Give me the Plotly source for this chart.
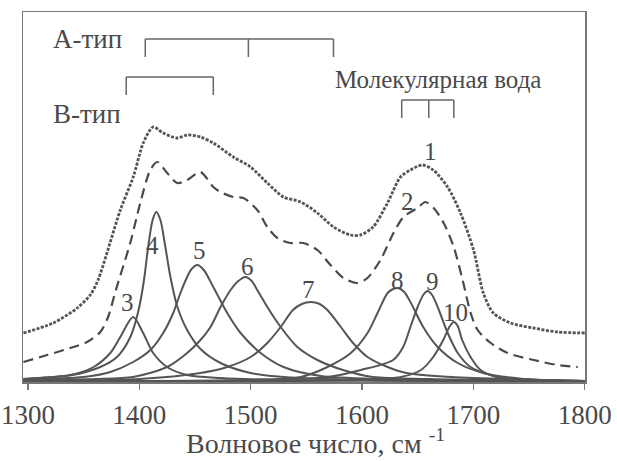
import plotly.graph_objects as go

# ---------------- data ----------------
# curve 1: experimental spectrum (dotted)
c1_x = [1296, 1322.7, 1344.3, 1356, 1363, 1383, 1394.6, 1403.6, 1412.5, 1421.5, 1434, 1443, 1455, 1466.5,
        1484.5, 1500, 1515, 1529.5, 1545, 1560, 1574.5, 1589.6, 1598.6, 1610, 1622.9, 1634.6, 1643.5,
        1654.3, 1664, 1676.9, 1688.5, 1700.2, 1709, 1718, 1733.5, 1754, 1775.8, 1800]
c1_y = [49, 59, 74, 87, 102, 172, 205, 239, 255, 249, 244, 247, 245, 239,
        225, 215, 199, 185, 180, 169, 155, 147, 147, 155, 179, 205, 212,
        217, 212, 195, 169, 132, 89, 69, 59, 54, 50, 49]

# curve 2: second spectrum (dashed)
c2_x = [1296, 1317.3, 1338, 1353.2, 1365, 1372, 1379, 1391.9, 1400.9, 1409.9, 1416.2, 1425.1, 1434.1, 1443.1,
        1454.8, 1466.5, 1472.8, 1484.5, 1493.5, 1506, 1515, 1524, 1535.7, 1547.4, 1560, 1571.7, 1583.3,
        1595.9, 1604.9, 1616.6, 1628.3, 1637.3, 1649.8, 1657, 1664.4, 1673.4, 1682.4, 1690.4, 1697.6,
        1703.9, 1715.6, 1730.8, 1754.2, 1775.8, 1793.8]
c2_y = [20, 27, 34, 40, 50, 65, 92, 139, 179, 212, 220, 209, 199, 202,
        210, 195, 190, 185, 184, 172, 155, 144, 139, 139, 132, 117, 104,
        99, 104, 122, 149, 165, 174, 180, 174, 159, 135, 102, 69,
        52, 39, 29, 22, 17, 15]

# fitted component bands 3..10
p3_x = [1296, 1308, 1338, 1359, 1374, 1383, 1394.5, 1403.5, 1412.5, 1425, 1443, 1473, 1530, 1800]
p3_y = [3, 4, 7, 15, 29, 45, 65, 49, 29, 15, 7, 4, 2, 1]

p4_x = [1296, 1340, 1365, 1380, 1392, 1399, 1404, 1408, 1412, 1415.3, 1419, 1423, 1428, 1434, 1443,
        1455, 1473, 1500, 1530, 1600, 1800]
p4_y = [3, 7, 15, 25, 45, 70, 100, 135, 162, 170, 162, 138, 105, 76, 52,
        33, 19, 9, 5, 2, 1]

p5_x = [1296, 1350, 1374, 1394.5, 1410, 1421.5, 1430.5, 1437, 1443, 1447, 1452.3, 1458, 1466.5, 1479,
        1491, 1509, 1529.5, 1563, 1620, 1800]
p5_y = [3, 5, 10, 20, 32, 49, 69, 89, 105, 113, 117, 112, 95, 69,
        49, 29, 15, 6, 3, 1]

p6_x = [1296, 1360, 1394.5, 1425, 1443, 1455, 1464, 1473, 1482, 1489, 1495.3, 1501, 1506, 1515,
        1527, 1542, 1560, 1583, 1610, 1660, 1800]
p6_y = [2, 3, 5, 15, 29, 42, 55, 75, 92, 101, 105, 101, 92, 75,
        55, 35, 22, 12, 5, 3, 1]

p7_x = [1296, 1400, 1455, 1479, 1500, 1515, 1527, 1538, 1546, 1554, 1562, 1569, 1581, 1592,
        1605, 1623, 1640, 1680, 1800]
p7_y = [1, 3, 9, 15, 25, 39, 55, 72, 78, 80, 78, 72, 55, 39,
        25, 15, 9, 5, 1]

p8_x = [1296, 1500, 1545, 1569, 1590, 1605, 1614, 1623, 1628, 1632.5, 1638, 1644, 1655, 1668,
        1686, 1709, 1745, 1800]
p8_y = [1, 2, 5, 15, 29, 49, 69, 89, 93, 94, 90, 79, 55, 35,
        19, 9, 3, 1]

p9_x = [1296, 1520, 1569, 1599, 1628, 1637, 1643.5, 1650, 1655, 1659, 1663, 1668, 1677, 1686,
        1697.5, 1715.5, 1740, 1800]
p9_y = [1, 2, 5, 12, 22, 35, 55, 75, 87, 91, 87, 75, 49, 29,
        15, 7, 3, 1]

p10_x = [1296, 1600, 1635, 1653, 1664, 1673, 1679, 1682.5, 1686, 1690, 1697.5, 1706.5, 1724.5, 1779, 1800]
p10_y = [1, 2, 5, 12, 25, 42, 56, 60, 56, 42, 25, 12, 4, 1, 1]

peaks = [(p3_x, p3_y), (p4_x, p4_y), (p5_x, p5_y), (p6_x, p6_y),
         (p7_x, p7_y), (p8_x, p8_y), (p9_x, p9_y), (p10_x, p10_y)]

# band assignments (wavenumbers marked by brackets)
a_type_bands = [1405.4, 1498, 1574.4]
b_type_bands = [1388.3, 1466.5]
water_bands = [1635.7, 1660, 1682.5]

x_ticks = [1300, 1400, 1500, 1600, 1700, 1800]
x_tick_labels = ["1300", "1400", "1500", "1600", "1700", "1800"]

curve_labels = ["1", "2", "3", "4", "5", "6", "7", "8", "9", "10"]

# ---------------- figure ----------------
FONT = "Liberation Serif, Times New Roman, DejaVu Serif, serif"
LINE = "#555555"
TXT = "#4a4a4a"

fig = go.Figure()

for px, py in peaks:
    fig.add_trace(go.Scatter(x=px, y=py, mode="lines",
                             line=dict(color=LINE, width=2, shape="spline", smoothing=0.8),
                             hoverinfo="skip", showlegend=False))

fig.add_trace(go.Scatter(x=c2_x, y=c2_y, mode="lines",
                         line=dict(color="#4a4a4a", width=2.2, dash="10px,6px", shape="spline", smoothing=0.8),
                         showlegend=False))
fig.add_trace(go.Scatter(x=c1_x, y=c1_y, mode="lines",
                         line=dict(color="#555555", width=2.8, dash="3px,1.5px", shape="spline", smoothing=0.8),
                         showlegend=False))

# number labels (positions in data coordinates)
label_pos = [(1661.8, 233), (1641.1, 183), (1389.2, 82), (1411.7, 139), (1454.0, 134),
             (1497.1, 118), (1551.9, 95), (1631.9, 104), (1663.4, 103), (1684.0, 72)]
for txt, (lx, ly) in zip(curve_labels, label_pos):
    fig.add_annotation(x=lx, y=ly, text=txt, showarrow=False, xref="x", yref="y",
                       xanchor="center", yanchor="middle", yshift=-2,
                       font=dict(family=FONT, size=25, color=TXT))

# brackets
def bracket(bands, top, bottom):
    fig.add_shape(type="line", xref="x", yref="y", x0=bands[0], x1=bands[-1], y0=top, y1=top,
                  line=dict(color="#666666", width=1.5))
    for b in bands:
        fig.add_shape(type="line", xref="x", yref="y", x0=b, x1=b, y0=top, y1=bottom,
                      line=dict(color="#666666", width=1.5))

bracket(a_type_bands, 343, 325)
bracket(b_type_bands, 305, 287)
bracket(water_bands, 282, 264)

fig.add_annotation(x=1320.5, y=342, text="А-тип", showarrow=False, xanchor="left", yanchor="middle",
                   yshift=1, font=dict(family=FONT, size=27, color=TXT))
fig.add_annotation(x=1320.5, y=268, text="В-тип", showarrow=False, xanchor="left", yanchor="middle",
                   yshift=0, font=dict(family=FONT, size=27, color=TXT))
fig.add_annotation(x=1667.9, y=303, text="Молекулярная вода", showarrow=False, xanchor="center",
                   yanchor="middle", yshift=0, font=dict(family=FONT, size=25, color=TXT))

# axis title
fig.add_annotation(x=0.521, y=0, xref="paper", yref="paper", yanchor="bottom", yshift=-79,
                   text="Волновое число, см <sup>-1</sup>", showarrow=False,
                   font=dict(family=FONT, size=28, color=TXT))

fig.update_xaxes(range=[1295.6, 1800.3], tickvals=x_ticks, ticktext=x_tick_labels,
                 ticks="outside", ticklen=6, tickwidth=1.5, tickcolor="#777777",
                 showline=True, linecolor="#777777", linewidth=1.5, mirror=True,
                 showgrid=False, zeroline=False, ticklabelstandoff=2, automargin=False,
                 ticklabeloverflow="allow",
                 tickfont=dict(family=FONT, size=27, color=TXT))
fig.update_yaxes(range=[0, 370], showline=True, linecolor="#777777", linewidth=1.5, mirror=True,
                 showgrid=False, zeroline=False, showticklabels=False, ticks="", automargin=False)

fig.update_layout(width=617, height=461, margin=dict(l=23, r=32, t=12, b=79, autoexpand=False),
                  plot_bgcolor="white", paper_bgcolor="white",
                  font=dict(family=FONT), showlegend=False)

fig.write_html("out.html", config={"displayModeBar": False, "staticPlot": True},
               post_script="document.body.style.margin='0';document.body.style.overflow='hidden';")
